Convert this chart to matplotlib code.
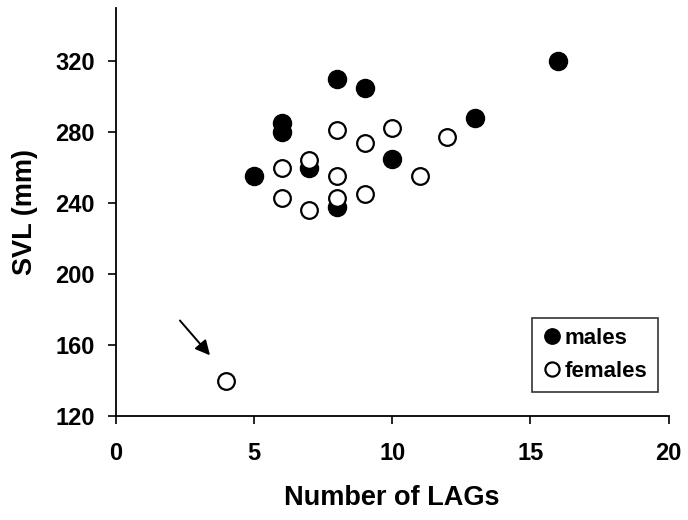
import matplotlib
matplotlib.use("Agg")
import matplotlib.pyplot as plt

plt.rcParams['font.family'] = ['Liberation Sans', 'DejaVu Sans']
plt.rcParams['font.weight'] = 'bold'

# number of LAGs vs SVL (mm)
males_lags = [8, 9, 13, 16, 6, 6, 5, 10, 7, 8]
males_svl = [310, 305, 288, 320, 285, 280, 255, 265, 260, 238]

females_lags = [8, 10, 9, 12, 6, 7, 8, 11, 6, 7, 8, 9, 4]
females_svl = [281, 282, 274, 277, 260, 264, 255, 255, 243, 236, 243, 245, 140]

x_ticks = [0, 5, 10, 15, 20]
y_ticks = [120, 160, 200, 240, 280, 320]

fig = plt.figure(figsize=(6.88, 5.2), dpi=100)
ax = fig.add_axes([0.168, 0.2, 0.804, 0.785])

ax.plot(males_lags, males_svl, 'o', color='black', markersize=13, label='males')
ax.plot(females_lags, females_svl, 'o', markerfacecolor='white', markeredgecolor='black',
        markeredgewidth=1.6, markersize=12, label='females')

# arrow pointing at the small female
ax.annotate('', xy=(3.48, 153), xytext=(2.26, 175),
            arrowprops=dict(arrowstyle='-|>', color='black', lw=1.4, mutation_scale=22))

ax.set_xlim(0, 20)
ax.set_ylim(120, 350)
ax.set_xticks(x_ticks)
ax.set_yticks(y_ticks)
ax.tick_params(direction='out', length=6, width=1.2, labelsize=17)
ax.tick_params(axis='x', pad=13)
ax.tick_params(axis='y', pad=9)
for s in ['top', 'right']:
    ax.spines[s].set_visible(False)
for s in ['left', 'bottom']:
    ax.spines[s].set_linewidth(1.3)

ax.set_xlabel('Number of LAGs', fontsize=19.5, fontweight='bold', labelpad=14)
ax.set_ylabel('SVL (mm)', fontsize=19.5, fontweight='bold', labelpad=12)

leg = ax.legend(loc='lower right', bbox_to_anchor=(0.98, 0.059), fontsize=16, frameon=True,
                fancybox=False, edgecolor='black', handletextpad=0.15, handlelength=0.9,
                borderpad=0.45, borderaxespad=0, labelspacing=0.55, markerscale=0.85)
leg.get_frame().set_linewidth(1.2)

fig.savefig('out.png', dpi=100, facecolor='white')
